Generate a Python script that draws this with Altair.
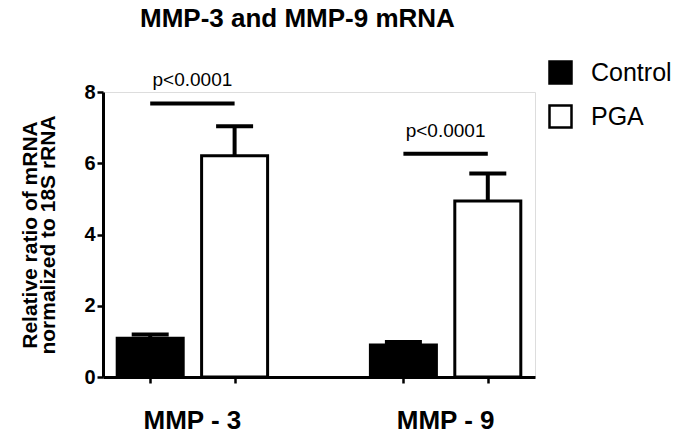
import altair as alt
import pandas as pd

# ---- data ----
genes = ["MMP - 3", "MMP - 9"]
groups = ["Control", "PGA"]
means = {"MMP - 3": [1.09, 6.21], "MMP - 9": [0.90, 4.94]}
sems = {"MMP - 3": [0.10, 0.83], "MMP - 9": [0.08, 0.77]}
sig_levels = [7.68, 6.27]
p_labels = ["p<0.0001", "p<0.0001"]
y_ticks = [0, 2, 4, 6, 8]
title_text = "MMP-3 and MMP-9 mRNA"
y_title = ["Relative ratio of  mRNA", "normalized to 18S rRNA"]

FONT = "Liberation Sans"

rows = []
for gi, g in enumerate(genes):
    for ki, grp in enumerate(groups):
        m = means[g][ki]
        rows.append({"gene": g, "group": grp, "slot": gi * 3 + ki,
                     "mean": m, "upper": m + sems[g][ki]})
bars_df = pd.DataFrame(rows)

ann_df = pd.DataFrame({
    "gene": genes,
    "x1": [gi * 3 for gi in range(len(genes))],
    "x2": [gi * 3 + 1 for gi in range(len(genes))],
    "xc": [gi * 3 + 0.5 for gi in range(len(genes))],
    "level": sig_levels,
    "p": p_labels,
})

xscale = alt.Scale(domain=[-0.5, 4.5], nice=False, zero=False)
yscale = alt.Scale(domain=[0, 8], nice=False)

x_axis = alt.Axis(values=[0, 1, 3, 4], labels=False, title=None, grid=False,
                  tickSize=6, tickWidth=2.5, tickColor="black",
                  domainWidth=3, domainColor="black")
y_axis = alt.Axis(values=y_ticks, title=y_title, grid=False,
                  tickSize=6, tickWidth=2.5, tickColor="black",
                  domainWidth=3, domainColor="black",
                  labelFont=FONT, labelFontSize=20, labelFontWeight="bold",
                  labelColor="black", labelPadding=2,
                  titleFont=FONT, titleFontSize=21, titleFontWeight="bold",
                  titleColor="black", titlePadding=25, titleLineHeight=18)

base = alt.Chart(bars_df)

bars = base.mark_bar(width=66, stroke="black", strokeWidth=3).encode(
    x=alt.X("slot:Q", scale=xscale, axis=x_axis),
    y=alt.Y("mean:Q", scale=yscale, axis=y_axis),
    fill=alt.Fill("group:N", scale=alt.Scale(domain=groups, range=["black", "white"]),
                  legend=alt.Legend(title=None, orient="none", legendX=445, legendY=-32,
                                    padding=0, symbolType="square", symbolSize=484,
                                    symbolStrokeColor="black", symbolStrokeWidth=2.5,
                                    symbolOpacity=1,
                                    labelFont=FONT, labelFontSize=25, labelColor="black",
                                    labelOffset=18, rowPadding=11)),
)

err = base.mark_rule(color="black", strokeWidth=4, opacity=1).encode(
    x="slot:Q", y="mean:Q", y2="upper:Q")
caps = base.mark_tick(orient="horizontal", size=37, thickness=4, color="black",
                      opacity=1).encode(
    x="slot:Q", y="upper:Q")

ann = alt.Chart(ann_df)
sig = ann.mark_rule(color="black", strokeWidth=4).encode(
    x="x1:Q", x2="x2:Q", y="level:Q")
ptext = ann.mark_text(font=FONT, fontSize=19, color="black", baseline="alphabetic",
                      align="center", dy=-17).encode(
    x="xc:Q", y="level:Q", text="p:N")
glabels = ann.mark_text(font=FONT, fontSize=26, fontWeight="bold", color="black",
                        baseline="alphabetic", align="center").encode(
    x="xc:Q", y=alt.value(337), text="gene:N")

chart = alt.layer(bars, err, caps, sig, ptext, glabels).properties(
    width=432, height=285,
    autosize=alt.AutoSizeParams(type="none"),
    padding={"left": 95, "top": 84, "right": 137, "bottom": 53},
    title=alt.TitleParams(title_text, font=FONT, fontSize=26, fontWeight="bold",
                          color="black", anchor="start", frame="group", dx=37,
                          offset=10, dy=-18),
).configure_view(stroke=None).configure(background="white")

chart.save("out.html", embed_options={"renderer": "svg", "actions": False})
